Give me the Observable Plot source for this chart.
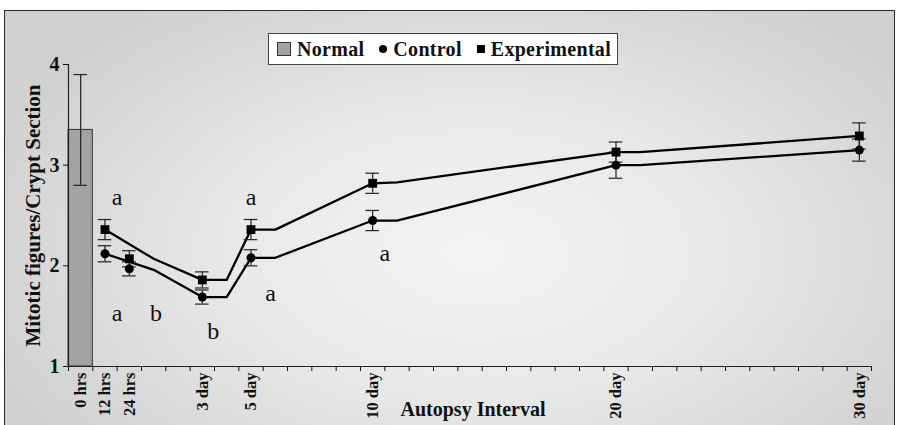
<!DOCTYPE html>
<html><head><meta charset="utf-8">
<script src="https://cdn.jsdelivr.net/npm/d3@7"></script>
<script src="https://cdn.jsdelivr.net/npm/@observablehq/plot@0.6"></script>
<style>
html,body{margin:0;padding:0;background:#fff;}
#wrap{position:relative;width:898px;height:425px;overflow:hidden;background:#fff;}
#frame{position:absolute;left:4px;top:10px;width:889px;height:440px;border:1.5px solid #2a2a2a;
  background:radial-gradient(ellipse 60% 70% at 53% 55%, #f3f3f3 0%, #e9e9e9 45%, #d6d6d6 85%, #d0d0d0 100%);}
#chart{position:absolute;left:0;top:0;}
#legend{position:absolute;left:268px;top:33px;width:350px;height:32px;background:#fff;border:1.5px solid #444;
  font-family:"Liberation Serif","Tinos","Times New Roman","DejaVu Serif",serif;font-weight:bold;font-size:20px;letter-spacing:0.3px;color:#111;display:flex;align-items:center;box-sizing:border-box;padding-left:8px;white-space:nowrap;}
#legend .it{display:flex;align-items:center;margin-right:15px;}
#legend .sw{display:inline-block;margin-right:6px;}
</style></head>
<body>
<div id="wrap"><div id="frame"></div><div id="chart"></div>
<div id="legend">
 <span class="it"><span class="sw" style="width:12px;height:12px;background:#a3a3a3;border:1px solid #333;"></span>Normal</span>
 <span class="it"><span class="sw" style="width:8px;height:8px;background:#000;border-radius:50%;"></span>Control</span>
 <span class="it"><span class="sw" style="width:8px;height:8px;background:#000;"></span>Experimental</span>
</div>
</div>
<script>
// x categories (equally spaced category slots, index 0..32)
const labelCats = [0, 1, 2, 5, 7, 12, 22, 32];
const tickLabels = ["0 hrs", "12 hrs", "24 hrs", "3 day", "5 day", "10 day", "20 day", "30 day"];
const yTicks = [1, 2, 3, 4];

// Normal (bar)
const normalCat = [0];
const normalMean = [3.35];
const normalErr = [0.55];

// Markers with error bars
const markerCats = [1, 2, 5, 7, 12, 22, 32];
const controlMean = [2.12, 1.97, 1.69, 2.08, 2.45, 3.00, 3.15];
const controlErr  = [0.08, 0.07, 0.07, 0.08, 0.10, 0.13, 0.11];
const expMean     = [2.36, 2.07, 1.86, 2.36, 2.82, 3.13, 3.29];
const expErr      = [0.10, 0.08, 0.08, 0.10, 0.10, 0.10, 0.13];

// Connecting line vertices as drawn in the reference
const lineCats    = [1, 3, 5, 6, 7, 8, 12, 13, 22, 23, 32];
const controlLine = [2.12, 1.96, 1.69, 1.69, 2.08, 2.08, 2.45, 2.45, 3.00, 3.00, 3.15];
const expLine     = [2.36, 2.07, 1.86, 1.86, 2.36, 2.36, 2.82, 2.83, 3.13, 3.13, 3.29];

// Significance letters
const annotText = ["a", "a", "b", "b", "a", "a", "a"];
const annotCat  = [1.5, 1.5, 3.1, 5.45, 7.0, 7.8, 12.5];
const annotVal  = [2.68, 1.53, 1.53, 1.35, 2.68, 1.73, 2.12];

const FONT = "'Liberation Serif', Tinos, 'Times New Roman', 'DejaVu Serif', serif";

const normal = normalCat.map((k, i) => ({k, v: normalMean[i], e: normalErr[i]}));
const ctl = markerCats.map((k, i) => ({k, v: controlMean[i], e: controlErr[i]}));
const exp = markerCats.map((k, i) => ({k, v: expMean[i], e: expErr[i]}));
const ctlLine = lineCats.map((k, i) => ({k, v: controlLine[i]}));
const expLineD = lineCats.map((k, i) => ({k, v: expLine[i]}));
const annots = annotText.map((t, i) => ({t, k: annotCat[i], v: annotVal[i]}));
const allErr = [...normal, ...ctl, ...exp];

const chart = Plot.plot({
  width: 898, height: 425,
  marginLeft: 68, marginRight: 27, marginTop: 64, marginBottom: 59,
  x: {domain: [-0.5, 32.5]},
  y: {domain: [1, 4]},
  style: {background: "transparent", fontFamily: FONT, fontWeight: "bold", color: "#111"},
  marks: [
    Plot.rect(normal, {x1: d => d.k - 0.5, x2: d => d.k + 0.5, y1: 1, y2: "v", fill: "#a3a3a3", stroke: "#333", strokeWidth: 1}),
    Plot.line(expLineD, {x: "k", y: "v", stroke: "#000", strokeWidth: 2.3}),
    Plot.line(ctlLine, {x: "k", y: "v", stroke: "#000", strokeWidth: 2.3}),
    Plot.ruleX(allErr, {x: "k", y1: d => d.v - d.e, y2: d => d.v + d.e, stroke: "#222", strokeWidth: 1.2}),
    Plot.ruleY(allErr, {y: d => d.v + d.e, x1: d => d.k - 0.28, x2: d => d.k + 0.28, stroke: "#222", strokeWidth: 1.2}),
    Plot.ruleY(allErr, {y: d => d.v - d.e, x1: d => d.k - 0.28, x2: d => d.k + 0.28, stroke: "#222", strokeWidth: 1.2}),
    Plot.dot(ctl, {x: "k", y: "v", r: 4.5, fill: "#000", symbol: "circle"}),
    Plot.dot(exp, {x: "k", y: "v", r: 5, fill: "#000", symbol: "square"}),
    Plot.ruleX([-0.5], {stroke: "#222", strokeWidth: 1.2}),
    Plot.ruleY([1], {stroke: "#222", strokeWidth: 1.2}),
    Plot.axisY({ticks: yTicks, tickSize: 5, tickPadding: 4, fontSize: 20, tickFormat: d => String(d), label: null}),
    Plot.axisX({ticks: d3.range(-0.5, 33, 1), tickSize: 5, tickFormat: () => "", label: null}),
    Plot.axisX({ticks: labelCats, tickSize: 0, tickPadding: 6, tickRotate: -90, fontSize: 16.5,
      tickFormat: d => tickLabels[labelCats.indexOf(d)], label: null}),
    Plot.text(["Mitotic figures/Crypt Section"], {frameAnchor: "left", textAnchor: "middle", lineAnchor: "middle", dx: -35, rotate: -90, fontSize: 21, fill: "#111"}),
    Plot.text(["Autopsy Interval"], {frameAnchor: "bottom", textAnchor: "middle", lineAnchor: "middle", dy: 43, dx: 3, fontSize: 20, fill: "#111"}),
    Plot.text(annots, {x: "k", y: "v", text: "t", fontSize: 24, fontWeight: "normal", fill: "#111"})
  ]
});
document.getElementById("chart").appendChild(chart);
</script>
</body></html>
